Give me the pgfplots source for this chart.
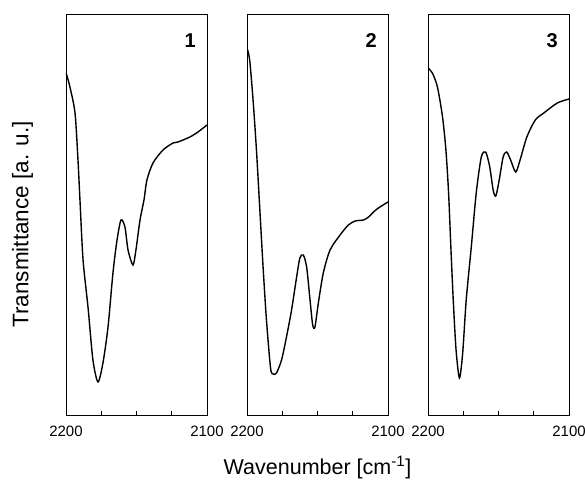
\documentclass[border=0pt]{standalone}
\usepackage{pgfplots}
\pgfplotsset{compat=1.18}
\usepackage{fontspec}
\setmainfont{Liberation Sans}

\pgfplotsset{
  irpanel/.style={
    scale only axis,
    width=141pt, height=401pt,
    xmin=2100, xmax=2200, x dir=reverse,
    ymin=0, ymax=401,
    ytick=\empty,
    xtick={2200,2175,2150,2125,2100},
    xticklabels={2200,,,,2100},
    xtick pos=bottom,
    tick align=inside,
    major tick length=4pt,
    axis line style={line width=0.9pt},
    tick style={line width=0.8pt, black},
    tick label style={font=\fontsize{15}{17}\selectfont},
    xticklabel style={anchor=base, yshift=-21pt},
    /pgf/number format/assume math mode=true,
    clip=true,
  },
  irline/.style={black, line width=1.4pt, smooth, tension=0.45, mark=none},
}

\begin{document}
\begin{tikzpicture}
% panel 1
\begin{axis}[irpanel, name=a1, at={(0pt,0pt)}]
\addplot[irline] coordinates {
  (2200,342) (2199.5,340) (2197.2,328) (2193.6,302) (2191.5,255) (2190.1,215)
  (2187.9,155) (2184.4,108) (2180.9,55) (2177.3,33) (2173.8,52) (2170.2,88)
  (2166.7,142) (2163.8,175) (2161.0,195) (2158.2,188) (2156.0,165) (2152.5,150)
  (2150.4,165) (2147.5,195) (2144.7,215) (2142.6,235) (2138.3,252) (2131.2,265)
  (2124.1,272) (2120.6,273) (2112.1,278) (2106.4,283) (2100,290)
};
\node[font=\bfseries\fontsize{20}{24}\selectfont] at (rel axis cs:0.88,0.933) {1};
\end{axis}
% panel 2
\begin{axis}[irpanel, name=a2, at={(181pt,0pt)}]
\addplot[irline] coordinates {
  (2200,367) (2198.1,355) (2195.7,315) (2193.3,265) (2191.0,208) (2188.6,148)
  (2186.2,95) (2183.3,47) (2181.5,41) (2179.1,42) (2175.5,55) (2172.0,78)
  (2168.4,105) (2164.8,138) (2162.5,157) (2160.1,160) (2157.7,148) (2155.3,115)
  (2153.4,90) (2151.8,88) (2149.4,112) (2145.9,142) (2141.1,165) (2134.0,180)
  (2128.1,190) (2123.3,194) (2117.4,195) (2113.8,198) (2107.8,206) (2100,213)
};
\node[font=\bfseries\fontsize{20}{24}\selectfont] at (rel axis cs:0.88,0.933) {2};
\end{axis}
% panel 3
\begin{axis}[irpanel, name=a3, at={(362pt,0pt)}]
\addplot[irline] coordinates {
  (2200,347) (2196.9,342) (2193.3,328) (2189.7,298) (2187.3,265) (2185.4,222)
  (2183.7,165) (2182.1,115) (2180.1,65) (2177.7,37) (2175.4,62) (2172.9,115)
  (2169.3,168) (2165.8,222) (2162.2,258) (2159.1,263) (2156.2,248) (2153.8,225)
  (2151.9,219) (2149.5,235) (2146.7,258) (2144.2,263) (2141.4,255) (2137.8,243)
  (2134.7,255) (2129.9,278) (2123.9,295) (2117.9,302) (2108.3,312) (2100,316)
};
\node[font=\bfseries\fontsize{20}{24}\selectfont] at (rel axis cs:0.88,0.933) {3};
\end{axis}
% common axis titles
\node[anchor=base, font=\fontsize{21.5}{25}\selectfont] at ([yshift=-59pt]a2.south) {Wavenumber [cm\textsuperscript{-1}]};
\node[rotate=90, font=\fontsize{22.5}{26}\selectfont] at ([xshift=-43.5pt,yshift=190.5pt]a1.south west) {Transmittance [a. u.]};
% page frame as in the reference
\pgfresetboundingbox
\useasboundingbox ([xshift=-66pt,yshift=-66pt]a1.south west) rectangle ([xshift=519pt,yshift=415pt]a1.south west);
\end{tikzpicture}
\end{document}
